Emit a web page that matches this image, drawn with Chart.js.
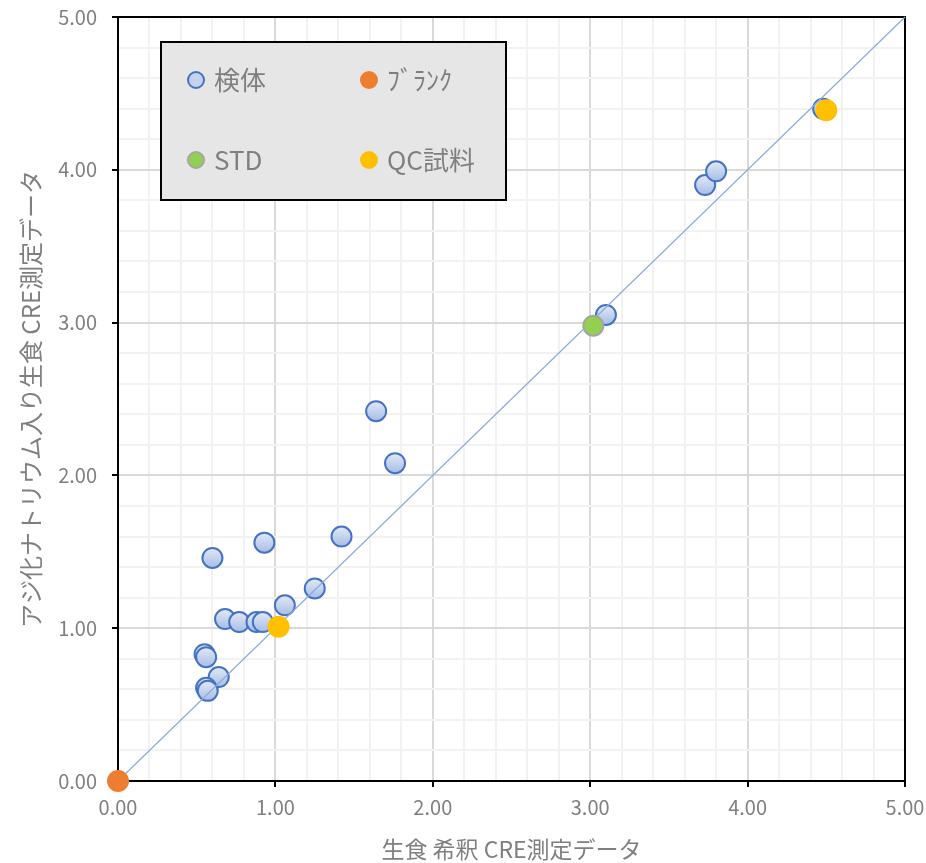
<!DOCTYPE html>
<html>
<head>
<meta charset="utf-8">
<script src="https://cdn.jsdelivr.net/npm/chart.js@4/dist/chart.umd.min.js"></script>
<style>
  html, body { margin: 0; padding: 0; background: #fff; }
  #wrap { width: 926px; height: 863px; }
</style>
</head>
<body>
<div id="wrap"><canvas id="crePlot"></canvas></div>
<script>
// 検体
const sampleX = [1.64, 1.76, 1.42, 0.93, 0.60, 1.25, 1.06, 0.68, 0.77, 0.88, 0.92, 0.55, 0.56, 0.64, 0.56, 0.57, 3.73, 3.80, 3.10, 4.48];
const sampleY = [2.42, 2.08, 1.60, 1.56, 1.46, 1.26, 1.15, 1.06, 1.04, 1.04, 1.04, 0.83, 0.81, 0.68, 0.61, 0.59, 3.90, 3.99, 3.05, 4.40];
// ﾌﾞﾗﾝｸ
const blankX = [0];
const blankY = [0];
// STD
const stdX = [3.02];
const stdY = [2.98];
// QC試料
const qcX = [1.02, 4.50];
const qcY = [1.01, 4.39];
// y = x
const refX = [0, 5];
const refY = [0, 5];

const axisMin = 0;
const axisMax = 5;

const legendItems = [
  { text: '検体', fill: '#c3d2ef', border: '#4472c4' },
  { text: 'ﾌﾞﾗﾝｸ', fill: '#ed7d31', border: null },
  { text: 'STD', fill: '#92d050', border: '#a5a5a5' },
  { text: 'QC試料', fill: '#ffc000', border: null }
];

function pts(xs, ys) {
  return xs.map(function (x, i) { return { x: x, y: ys[i] }; });
}

function isMajor(v) {
  return Math.abs(v - Math.round(v)) < 1e-6;
}

const jpFont = '"Noto Sans CJK JP", "Noto Sans", sans-serif';

// blue marker gradient, per point
function sampleFill(c) {
  const chart = c.chart;
  if (!chart.chartArea || !c.parsed) {
    return '#c3d2ef';
  }
  const y = chart.scales.y.getPixelForValue(c.parsed.y);
  const g = chart.ctx.createLinearGradient(0, y - 10, 0, y + 10);
  g.addColorStop(0, '#e2e9f6');
  g.addColorStop(1, '#a6bde6');
  return g;
}

const framePlugin = {
  id: 'frame',
  beforeDatasetsDraw(chart) {
    const a = chart.chartArea;
    const ctx = chart.ctx;
    ctx.save();
    ctx.strokeStyle = '#000';
    ctx.lineWidth = 2;
    ctx.strokeRect(a.left, a.top, a.right - a.left, a.bottom - a.top);
    ctx.restore();
  }
};

const boxLegend = {
  id: 'boxLegend',
  afterDatasetsDraw(chart) {
    const a = chart.chartArea;
    const ctx = chart.ctx;
    const bx = a.left + 43, by = a.top + 25, bw = 345, bh = 158;
    ctx.save();
    ctx.fillStyle = '#e6e6e6';
    ctx.fillRect(bx, by, bw, bh);
    ctx.strokeStyle = '#000';
    ctx.lineWidth = 2;
    ctx.strokeRect(bx, by, bw, bh);
    ctx.font = '26px ' + jpFont;
    ctx.textBaseline = 'middle';
    legendItems.forEach(function (it, i) {
      const cx = bx + 35 + (i % 2) * 173;
      const cy = by + 38 + Math.floor(i / 2) * 80;
      ctx.beginPath();
      ctx.arc(cx, cy, it.border ? 8 : 9, 0, Math.PI * 2);
      ctx.fillStyle = it.fill;
      ctx.fill();
      if (it.border) {
        ctx.lineWidth = 2;
        ctx.strokeStyle = it.border;
        ctx.stroke();
      }
      ctx.fillStyle = '#7f7f7f';
      ctx.fillText(it.text, cx + 18, cy);
    });
    ctx.restore();
  }
};

function axisOpts(titleText, isX) {
  return {
    type: 'linear',
    min: axisMin,
    max: axisMax,
    afterFit: function (scale) {
      if (isX) {
        scale.height = 82;
      } else {
        scale.width = 118;
      }
      // keep the plot area fixed, labels may hang outside
      scale.paddingTop = 0;
      scale.paddingBottom = 0;
      scale.paddingLeft = 0;
      scale.paddingRight = 0;
    },
    border: { color: '#000', width: 2 },
    grid: {
      color: function (c) { return isMajor(c.tick.value) ? '#d9d9d9' : '#f2f2f2'; },
      lineWidth: 2,
      tickColor: function (c) { return isMajor(c.tick.value) ? '#000' : 'rgba(0,0,0,0)'; },
      tickWidth: 2,
      tickLength: 6
    },
    ticks: {
      stepSize: 0.2,
      autoSkip: false,
      maxRotation: 0,
      padding: isX ? 8 : 15,
      color: '#7f7f7f',
      font: { family: jpFont, size: 20 },
      callback: function (v) { return isMajor(v) ? Number(v).toFixed(2) : ''; }
    },
    title: {
      display: true,
      text: titleText,
      color: '#7f7f7f',
      font: { family: jpFont, size: isX ? 23 : 24 },
      padding: isX ? { top: 0, bottom: 0 } : { top: 16, bottom: 0 }
    }
  };
}

const config = {
  type: 'scatter',
  data: {
    datasets: [
      {
        label: 'QC試料',
        data: pts(qcX, qcY),
        order: 1,
        pointRadius: 11,
        pointBackgroundColor: '#ffc000',
        pointBorderWidth: 0,
        clip: false
      },
      {
        label: 'ﾌﾞﾗﾝｸ',
        data: pts(blankX, blankY),
        order: 2,
        pointRadius: 11,
        pointBackgroundColor: '#ed7d31',
        pointBorderWidth: 0,
        clip: false
      },
      {
        label: 'STD',
        data: pts(stdX, stdY),
        order: 3,
        pointRadius: 10,
        pointBackgroundColor: '#92d050',
        pointBorderColor: '#a5a5a5',
        pointBorderWidth: 2,
        clip: false
      },
      {
        label: 'y=x',
        data: pts(refX, refY),
        order: 4,
        showLine: true,
        borderColor: '#8eaadb',
        borderWidth: 1.2,
        pointRadius: 0,
        clip: false
      },
      {
        label: '検体',
        data: pts(sampleX, sampleY),
        order: 5,
        pointRadius: 10,
        pointBackgroundColor: sampleFill,
        pointBorderColor: '#4472c4',
        pointBorderWidth: 2,
        clip: false
      }
    ]
  },
  options: {
    responsive: true,
    maintainAspectRatio: false,
    animation: false,
    layout: {
      padding: { top: 17, right: 21, left: 0, bottom: 0 }
    },
    plugins: {
      legend: { display: false },
      tooltip: { enabled: false }
    },
    scales: {
      x: axisOpts('生食 希釈 CRE測定データ', true),
      y: axisOpts('アジ化ナトリウム入り生食 CRE測定データ', false)
    }
  },
  plugins: [framePlugin, boxLegend]
};

const ctx = document.getElementById('crePlot').getContext('2d');
const crePlot = new Chart(ctx, config);
</script>
</body>
</html>
